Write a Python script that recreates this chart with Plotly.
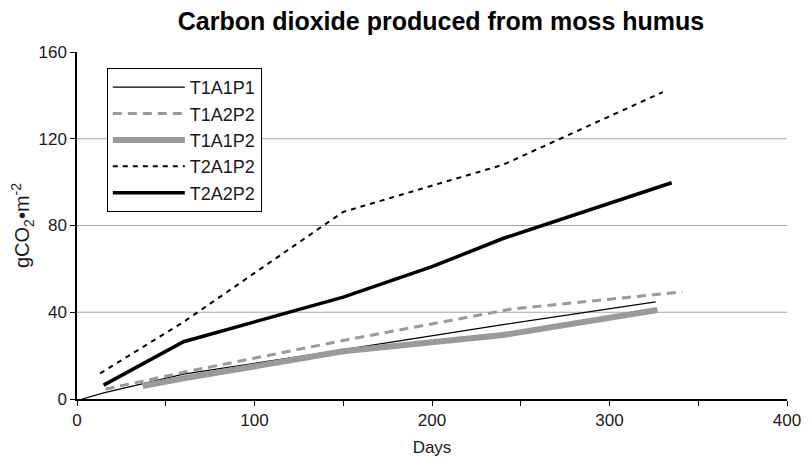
import plotly.graph_objects as go

# Data
t1a1p1_x = [3, 15, 60, 125, 240, 326]
t1a1p1_y = [0, 2.8, 11.5, 19.5, 34.3, 44.8]

t1a2p2_x = [16, 60, 150, 245, 341]
t1a2p2_y = [4.5, 12.3, 27, 41.5, 49.4]

t1a1p2_x = [37, 60, 150, 240, 327]
t1a1p2_y = [6, 9.5, 22, 29.5, 41]

t2a1p2_x = [13, 60, 150, 240, 330]
t2a1p2_y = [11.8, 35.5, 86.3, 108, 141.5]

t2a2p2_x = [15, 60, 150, 200, 240, 335]
t2a2p2_y = [6.4, 26.4, 47, 61, 74, 99.7]

x_tickvals = [0, 50, 100, 150, 200, 250, 300, 350, 400]
x_ticktext = ["0", "", "100", "", "200", "", "300", "", "400"]
y_tickvals = [0, 40, 80, 120, 160]
grid_y = [40, 80, 120]

FONT = "Liberation Sans, Arial, sans-serif"

fig = go.Figure()
fig.add_trace(go.Scatter(x=t1a1p1_x, y=t1a1p1_y, mode="lines", name="T1A1P1",
                         line=dict(color="black", width=1.2)))
fig.add_trace(go.Scatter(x=t1a2p2_x, y=t1a2p2_y, mode="lines", name="T1A2P2",
                         line=dict(color="#9a9a9a", width=3, dash="9px,6px")))
fig.add_trace(go.Scatter(x=t1a1p2_x, y=t1a1p2_y, mode="lines", name="T1A1P2",
                         line=dict(color="#9a9a9a", width=6)))
fig.add_trace(go.Scatter(x=t2a1p2_x, y=t2a1p2_y, mode="lines", name="T2A1P2",
                         line=dict(color="black", width=2, dash="5px,5px")))
fig.add_trace(go.Scatter(x=t2a2p2_x, y=t2a2p2_y, mode="lines", name="T2A2P2",
                         line=dict(color="black", width=3.5)))

for gy in grid_y:
    fig.add_shape(type="line", xref="paper", x0=0, x1=1, yref="y", y0=gy, y1=gy,
                  line=dict(color="#a6a6a6", width=1), layer="below")

# page body has an 8px margin: shrink the figure and margins to compensate
fig.update_layout(
    width=804, height=460,
    margin=dict(l=69, r=25, t=44, b=69, autoexpand=False),
    paper_bgcolor="white", plot_bgcolor="white",
    font=dict(family=FONT, size=17, color="#1a1a1a"),
    title=dict(text="<b>Carbon dioxide produced from moss humus</b>",
               x=433 / 804, xref="container", xanchor="center",
               y=1 - 13 / 460, yref="container", yanchor="middle",
               font=dict(family=FONT, size=25, color="black")),
    xaxis=dict(range=[0, 400], tickvals=x_tickvals, ticktext=x_ticktext,
               showgrid=False, zeroline=False, showline=True, linecolor="black",
               linewidth=2, ticks="outside", ticklen=5, tickcolor="black",
               tickwidth=1, automargin=False, tickfont=dict(size=17),
               title=dict(text="Days", standoff=12,
                          font=dict(size=17, color="#1a1a1a"))),
    yaxis=dict(range=[0, 160], tickvals=y_tickvals, showgrid=False,
               zeroline=False, showline=True, linecolor="black", linewidth=1.5,
               ticks="outside", ticklen=5, tickcolor="black", tickwidth=1,
               automargin=False, tickfont=dict(size=17),
               title=dict(text="gCO<sub>2</sub>•m<sup>-2</sup>", standoff=12,
                          font=dict(size=20, color="#1a1a1a"))),
    legend=dict(x=0.042, y=0.954, xanchor="left", yanchor="top",
                bgcolor="white", bordercolor="black", borderwidth=1,
                font=dict(size=18, color="#1a1a1a"), tracegroupgap=0,
                itemwidth=72),
    showlegend=True,
)

fig.write_html("out.html")
